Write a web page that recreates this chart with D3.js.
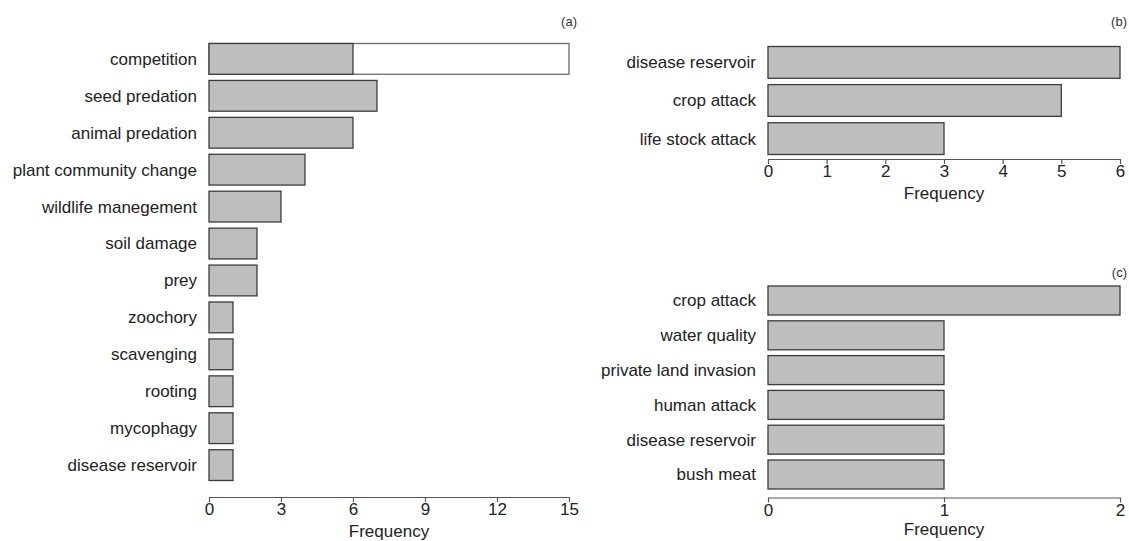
<!DOCTYPE html>
<html>
<head>
<meta charset="utf-8">
<title>Frequency of impacts</title>
<script src="https://d3js.org/d3.v7.min.js"></script>
<style>
body {
	margin: 0;
	background-color: white;
}
svg {
	display: block;
	font-family: "Liberation Sans", Arial, sans-serif;
}
.bar {
	fill: #bebebe;
	stroke: #3c3c3c;
	stroke-width: 1.3;
}
.bar.open {
	fill: white;
	stroke: #6a6a6a;
}
.cat {
	font-size: 17px;
	fill: #222;
}
.axis path, .axis line {
	stroke: #555;
	stroke-width: 1.2;
}
.axis text {
	font-size: 17px;
	fill: #222;
}
.xtitle {
	font-size: 17px;
	fill: #222;
}
.tag {
	font-size: 13px;
	fill: #333;
}
</style>
<script>
/* globals d3 */
(function() {
"use strict";

// panel (a)
const catsA = ["competition", "seed predation", "animal predation", "plant community change",
	"wildlife manegement", "soil damage", "prey", "zoochory", "scavenging", "rooting",
	"mycophagy", "disease reservoir"];
const valsA = [6, 7, 6, 4, 3, 2, 2, 1, 1, 1, 1, 1];
const totalA = [15, 0, 0, 0, 0, 0, 0, 0, 0, 0, 0, 0];
const ticksA = [0, 3, 6, 9, 12, 15];

// panel (b)
const catsB = ["disease reservoir", "crop attack", "life stock attack"];
const valsB = [6, 5, 3];
const ticksB = [0, 1, 2, 3, 4, 5, 6];

// panel (c)
const catsC = ["crop attack", "water quality", "private land invasion", "human attack",
	"disease reservoir", "bush meat"];
const valsC = [2, 1, 1, 1, 1, 1];
const ticksC = [0, 1, 2];

function drawPanel(svg, p)
{
	const x = d3.scaleLinear([0, p.max], [p.left, p.right]);
	const y = d3.scaleBand(p.cats, [p.top, p.bottom])
		.paddingInner(1 / 6)
		.paddingOuter(0);

	const g = svg.append("g");

	if (p.totals) {
		g.selectAll(".open")
			.data(p.cats.map((c, i) => [c, p.totals[i]]).filter(d => d[1] > 0))
			.join("rect")
			.attr("class", "bar open")
			.attr("x", x(0))
			.attr("y", d => y(d[0]))
			.attr("width", d => x(d[1]) - x(0))
			.attr("height", y.bandwidth());
	}

	g.selectAll(".fill")
		.data(p.cats.map((c, i) => [c, p.vals[i]]))
		.join("rect")
		.attr("class", "bar fill")
		.attr("x", x(0))
		.attr("y", d => y(d[0]))
		.attr("width", d => x(d[1]) - x(0))
		.attr("height", y.bandwidth());

	g.selectAll(".cat")
		.data(p.cats)
		.join("text")
		.attr("class", "cat")
		.attr("x", x(0) - 12)
		.attr("y", d => y(d) + y.bandwidth() / 2)
		.attr("dy", "0.35em")
		.attr("text-anchor", "end")
		.text(d => d);

	const axis = d3.axisBottom(x)
		.tickValues(p.ticks)
		.tickFormat(d3.format("d"))
		.tickSizeInner(5)
		.tickSizeOuter(0)
		.tickPadding(1);
	const ga = svg.append("g")
		.attr("class", "axis")
		.attr("transform", "translate(0," + p.axisY + ")")
		.call(axis);
	ga.selectAll("text").attr("font-family", null).attr("font-size", null);

	svg.append("text")
		.attr("class", "xtitle")
		.attr("x", (p.left + p.right) / 2)
		.attr("y", p.axisY + p.titleGap)
		.attr("text-anchor", "middle")
		.text("Frequency");

	svg.append("text")
		.attr("class", "tag")
		.attr("x", p.tagX)
		.attr("y", p.tagY)
		.attr("text-anchor", "end")
		.text(p.tag);
}

function main()
{
	const svg = d3.select("body").append("svg")
		.attr("width", 1129)
		.attr("height", 541);

	drawPanel(svg, {cats: catsA, vals: valsA, totals: totalA, ticks: ticksA, max: 15,
		left: 209, right: 569, top: 43.5, bottom: 480.5, axisY: 497, titleGap: 40,
		tag: "(a)", tagX: 577, tagY: 26});
	drawPanel(svg, {cats: catsB, vals: valsB, ticks: ticksB, max: 6,
		left: 768, right: 1120, top: 46.5, bottom: 154.5, axisY: 159, titleGap: 40,
		tag: "(b)", tagX: 1127, tagY: 26});
	drawPanel(svg, {cats: catsC, vals: valsC, ticks: ticksC, max: 2,
		left: 768, right: 1120, top: 286, bottom: 489, axisY: 497.5, titleGap: 37,
		tag: "(c)", tagX: 1127, tagY: 277});
}
window.addEventListener("DOMContentLoaded", main);
})();
</script>
</head>
<body>
</body>
</html>
